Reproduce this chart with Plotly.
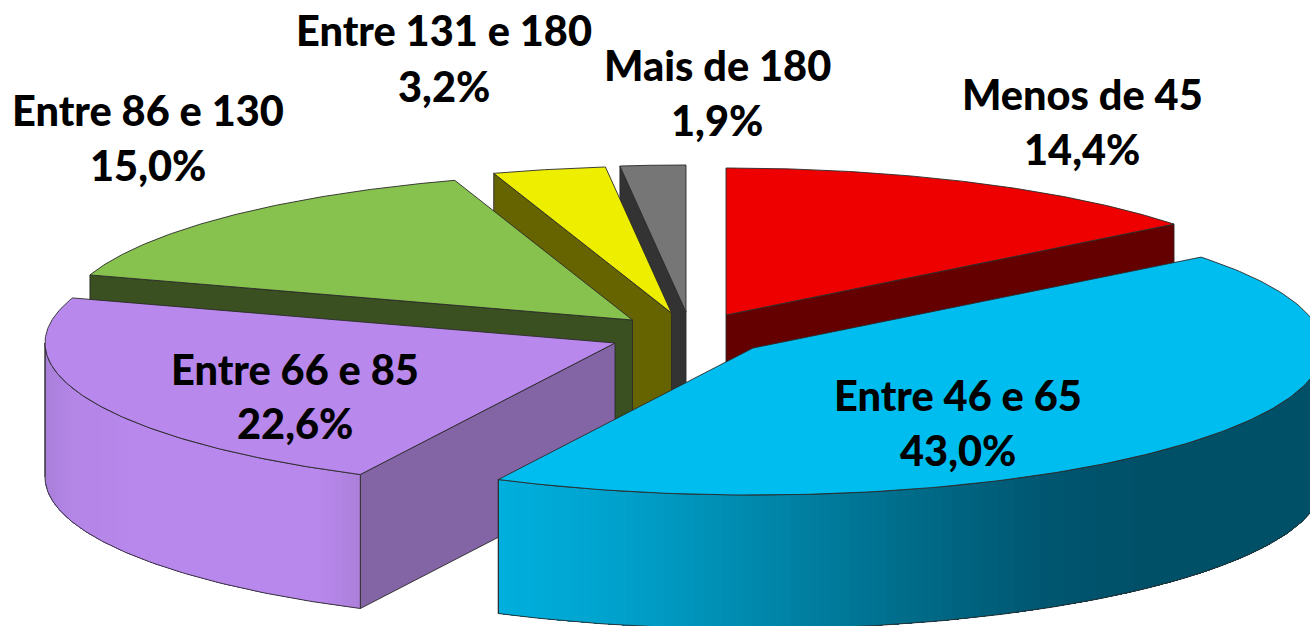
import numpy as np
import plotly.graph_objects as go

# --- data ---
categories = ["Menos de 45", "Entre 46 e 65", "Entre 66 e 85", "Entre 86 e 130", "Entre 131 e 180", "Mais de 180"]
values = [14.4, 43.0, 22.6, 15.0, 3.2, 1.9]

# --- style / layout ---
top_colors = ["#EE0000", "#00BDEF", "#B888EC", "#88C24E", "#EEEE00", "#767676"]
cut_colors = ["#640000", None, "#8364A4", "#3A5020", "#666400", "#333333"]
apex_x = [726, 753, 615, 632.5, 671.5, 686]
apex_y = [315, 348, 343, 320, 313, 312]
cut_edge = [1, None, 0, 0, 0, 0]   # which wedge edge shows its cut face: 0 = start, 1 = end
rim_stops = {
    1: ([497, 620, 760, 900, 1050, 1150, 1320],
        ["#00B0DE", "#00A2CC", "#0088AC", "#006E8C", "#005670", "#005068", "#005068"]),
    2: ([44, 70, 130, 320, 360],
        ["#A880DA", "#B486E6", "#B888EC", "#B888EC", "#AC80DA"]),
}
label_x = [1082, 958, 295, 148, 444, 717]
label_y = [94, 395, 369, 110, 30, 65]
pct_y = [149, 450, 423, 165, 86, 120]
draw_order = [5, 4, 3, 0, 2, 1]
RX, RY, DEPTH = 570, 147, 134
LINE = "#2A2A2A"

edges = np.minimum(np.concatenate([[0], np.cumsum(values)]) / 100.05, 1) * 2 * np.pi
fig = go.Figure()


def hexrgb(c):
    return np.array([int(c[i:i + 2], 16) for i in (1, 3, 5)], float)


def poly(xs, ys, fill, line=LINE, width=0.9):
    fig.add_trace(go.Scatter(x=list(xs), y=list(ys), mode="lines", fill="toself", fillcolor=fill,
                             line=dict(color=line, width=width), hoverinfo="skip", showlegend=False))


for i in draw_order:
    ax, ay = apex_x[i], apex_y[i]
    t0, t1 = edges[i], edges[i + 1]
    t = np.linspace(t0, t1, 160)
    rx, ry = ax + RX * np.sin(t), ay - RY * np.cos(t)
    # cut face
    if cut_edge[i] is not None:
        te = t1 if cut_edge[i] else t0
        ex, ey = ax + RX * np.sin(te), ay - RY * np.cos(te)
        poly([ax, ex, ex, ax, ax], [ay, ey, ey + DEPTH, ay + DEPTH, ay], cut_colors[i])
    # outer rim with horizontal gradient: overlapping bands painted one over the next
    if i in rim_stops:
        lo = max(t0, np.pi / 2)
        hi = min(t1, 3 * np.pi / 2)
        ts = np.linspace(lo, hi, 120)
        xs = ax + RX * np.sin(ts)
        ys = ay - RY * np.cos(ts)
        sx, sc = rim_stops[i]
        rgb = np.array([hexrgb(c) for c in sc])
        for k in range(len(ts) - 1):
            xm = (xs[k] + xs[k + 1]) / 2
            col = [np.interp(xm, sx, rgb[:, j]) for j in range(3)]
            c = "rgb(%d,%d,%d)" % tuple(col)
            poly(np.concatenate([xs[k:], xs[k:][::-1], xs[k:k + 1]]),
                 np.concatenate([ys[k:], ys[k:][::-1] + DEPTH, ys[k:k + 1]]), c, line=c, width=0)
        fig.add_trace(go.Scatter(x=np.concatenate([xs, xs[::-1]]).tolist(),
                                 y=np.concatenate([ys + DEPTH, ys[::-1]]).tolist(),
                                 mode="lines", line=dict(color=LINE, width=0.9),
                                 hoverinfo="skip", showlegend=False))
        # vertical rim end lines
        for q in (0, -1):
            fig.add_trace(go.Scatter(x=[xs[q], xs[q]], y=[ys[q], ys[q] + DEPTH], mode="lines",
                                     line=dict(color=LINE, width=0.9), hoverinfo="skip", showlegend=False))
    # top face
    poly(np.concatenate([[ax], rx, [ax]]), np.concatenate([[ay], ry, [ay]]), top_colors[i])

for i, name in enumerate(categories):
    pct = f"{values[i]:.1f}%".replace(".", ",")
    for txt, yy in ((name, label_y[i]), (pct, pct_y[i])):
        fig.add_annotation(x=label_x[i], y=yy, text=txt, showarrow=False, xanchor="center",
                           yanchor="middle", font=dict(family="Lato", size=41.5, weight=900, color="#000000"))

fig.update_layout(width=1310, height=626, margin=dict(l=0, r=0, t=0, b=0), paper_bgcolor="white",
                  plot_bgcolor="white", showlegend=False,
                  xaxis=dict(range=[0, 1310], visible=False, fixedrange=True),
                  yaxis=dict(range=[626, 0], visible=False, fixedrange=True))
fig.write_html("out.html", config=dict(displayModeBar=False),
               post_script="document.body.style.margin='0';document.body.style.overflow='hidden';")
